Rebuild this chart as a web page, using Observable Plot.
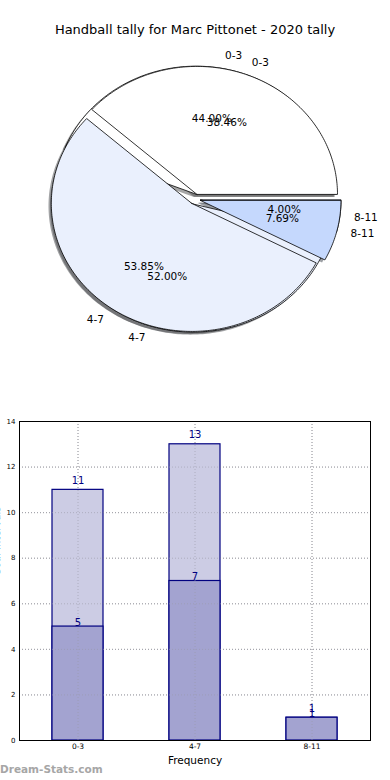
<!DOCTYPE html>
<html>
<head>
<meta charset="utf-8">
<script src="https://cdn.jsdelivr.net/npm/d3@7"></script>
<script src="https://cdn.jsdelivr.net/npm/@observablehq/plot@0.6"></script>
<style>
  body { margin: 0; background: #fff; }
  #wrap { position: relative; width: 390px; height: 780px; overflow: hidden; font-family: "DejaVu Sans", sans-serif; }
  #title { position: absolute; top: 22px; left: 0; width: 390px; text-align: center; font-size: 13px; line-height: 15px; color: #000; }
  #pie { position: absolute; top: 0; left: 0; }
  #bars { position: absolute; top: 400px; left: 0; }
  #mark { position: absolute; top: 762px; left: 0; font-size: 10.5px; font-weight: bold; color: #a6a6a6; line-height: 14px; }
</style>
</head>
<body>
<div id="wrap">
  <div id="pie"></div>
  <div id="bars"></div>
  <div id="title">Handball tally for Marc Pittonet - 2020 tally</div>
  <div id="mark">Dream-Stats.com</div>
</div>
<script>
// ---- data ----
const categories = ["0-3", "4-7", "8-11"];
const tallyAll = [11, 13, 1];      // outer pie / light bars
const tallySub = [5, 7, 1];        // top pie / dark bars
const yTicks = [0, 2, 4, 6, 8, 10, 12, 14];
const titleText = "Handball tally for Marc Pittonet - 2020 tally";
const xLabel = "Frequency";
const yLabel = "Goal Intervals";

// ---- styling ----
const pieColors = ["#ffffff", "#eaf0fd", "#c5d8fd"];
const explode = [0.04, 0.04, 0.04];

function wedges(values) {
  const total = d3.sum(values);
  let a0 = 0;
  return values.map((v, i) => {
    const span = v / total * 360;
    const start = a0; a0 += span;
    const mid = (start + span / 2) * Math.PI / 180;
    const ox = explode[i] * Math.cos(mid), oy = explode[i] * Math.sin(mid);
    const pts = [[ox, oy]];
    const n = Math.max(2, Math.ceil(span));
    for (let k = 0; k <= n; k++) {
      const t = (start + span * k / n) * Math.PI / 180;
      pts.push([ox + Math.cos(t), oy + Math.sin(t)]);
    }
    pts.push([ox, oy]);
    const c = d3.rgb(pieColors[i]);
    const shadow = d3.rgb(c.r * 0.3, c.g * 0.3, c.b * 0.3).formatHex();
    return {cat: categories[i], value: v, pct: v / total * 100, mid, ox, oy, pts, fill: pieColors[i], shadow};
  });
}

const pieA = wedges(tallyAll);
const pieB = wedges(tallySub);
const allW = [...pieA, ...pieB];

const cx = 194.5, cy = 198.7, rx = 140.5, ry = 128, W = 390, H = 400;
const font = "DejaVu Sans";

const pieMarks = [];
for (const w of allW) {
  pieMarks.push(Plot.line(w.pts, {x: d => d[0] - 0.02, y: d => d[1] - 0.02, fill: w.shadow, fillOpacity: 0.5, stroke: "none"}));
}
for (const w of allW) {
  pieMarks.push(Plot.line(w.pts, {x: d => d[0], y: d => d[1], fill: w.fill, stroke: "black", strokeWidth: 0.8, strokeLinejoin: "miter"}));
}
const labelOpts = {
  x: d => d.ox + 1.1 * Math.cos(d.mid),
  y: d => d.oy + 1.1 * Math.sin(d.mid),
  text: d => d.cat, fontSize: 10.5, fill: "black", lineAnchor: "middle"
};
pieMarks.push(Plot.text(allW.filter(d => Math.cos(d.mid) > 0), {...labelOpts, textAnchor: "start"}));
pieMarks.push(Plot.text(allW.filter(d => Math.cos(d.mid) <= 0), {...labelOpts, textAnchor: "end"}));
pieMarks.push(Plot.text(allW, {
  x: d => d.ox + 0.6 * Math.cos(d.mid),
  y: d => d.oy + 0.6 * Math.sin(d.mid),
  text: d => d.pct.toFixed(2) + "%", fontSize: 10.5, fill: "black", textAnchor: "middle", lineAnchor: "middle"
}));

const piePlot = Plot.plot({
  width: W, height: H,
  margin: 0,
  x: {domain: [-cx / rx, (W - cx) / rx], axis: null},
  y: {domain: [-(H - cy) / ry, cy / ry], axis: null},
  style: {fontFamily: font, background: "transparent", overflow: "visible"},
  marks: pieMarks
});
document.getElementById("pie").appendChild(piePlot);

// ---- bars ----
const navy = "#000080";
const barPlot = Plot.plot({
  width: 390, height: 380,
  marginLeft: 19, marginRight: 20, marginTop: 21, marginBottom: 40,
  x: {domain: categories, type: "band", paddingInner: 0.56, paddingOuter: 0.28},
  y: {domain: [0, 14]},
  style: {fontFamily: font, background: "transparent", overflow: "visible"},
  marks: [
    Plot.gridY(yTicks, {stroke: "#a8a8a8", strokeOpacity: 1, strokeDasharray: "1,2"}),
    Plot.gridX(categories, {stroke: "#a8a8a8", strokeOpacity: 1, strokeDasharray: "1,2"}),
    Plot.barY(tallyAll, {x: (d, i) => categories[i], y: d => d, fill: "#ccccE4", stroke: navy, strokeWidth: 1.2}),
    Plot.barY(tallySub, {x: (d, i) => categories[i], y: d => d, fill: "#a3a3d0", stroke: navy, strokeWidth: 1.2}),
    Plot.gridX(categories, {stroke: "#9a9aa8", strokeOpacity: 0.6, strokeDasharray: "1,2"}),
    Plot.gridY(yTicks, {stroke: "#9a9aa8", strokeOpacity: 0.6, strokeDasharray: "1,2"}),
    Plot.text(tallyAll, {x: (d, i) => categories[i], y: d => d, text: d => String(d), dy: -9, fill: navy, fontSize: 10, lineAnchor: "middle"}),
    Plot.text(tallySub, {x: (d, i) => categories[i], y: d => d, text: d => String(d), dy: -4, fill: navy, fontSize: 10, lineAnchor: "middle"}),
    Plot.frame({stroke: "black", strokeWidth: 1}),
    Plot.axisY(yTicks, {tickSize: 0, tickPadding: 4, fontSize: 7, label: null}),
    Plot.axisX({tickSize: 0, tickPadding: 3, fontSize: 7.5, label: null}),
    Plot.text([xLabel], {frameAnchor: "bottom", dy: 20, fontSize: 10.5, lineAnchor: "middle", fill: "black"}),
    Plot.text([yLabel], {frameAnchor: "left", dx: -20, dy: -5, rotate: -90, fontSize: 10, lineAnchor: "bottom", fill: "black"})
  ]
});
document.getElementById("bars").appendChild(barPlot);
document.getElementById("title").textContent = titleText;
</script>
</body>
</html>
